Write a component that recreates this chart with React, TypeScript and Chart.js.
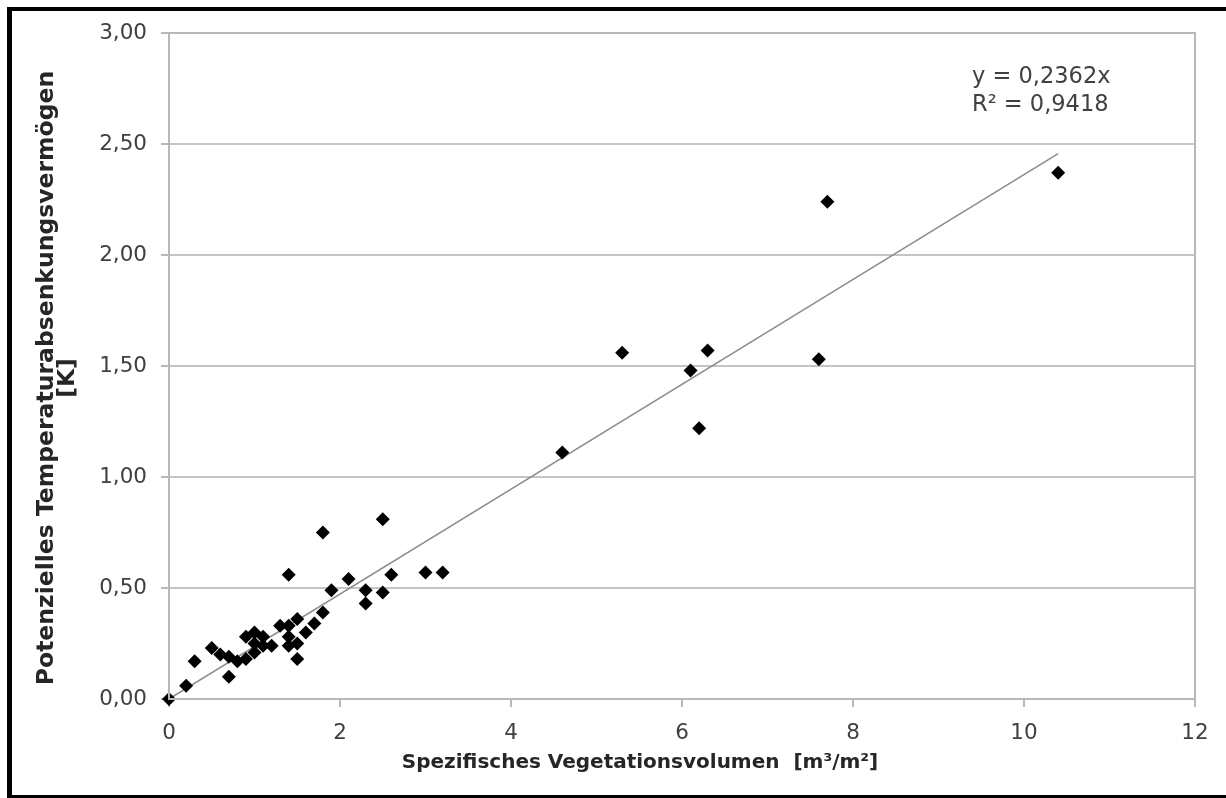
import React, { useEffect, useRef } from "react";
import { Chart, registerables } from "chart.js";

Chart.register(...registerables);

// Spezifisches Vegetationsvolumen [m³/m²]
const VOLUME_X: number[] = [
  0, 0.2, 0.3, 0.5, 0.6, 0.7, 0.7, 0.8, 0.9, 0.9,
  1.0, 1.0, 1.0, 1.1, 1.1, 1.2, 1.3, 1.4, 1.4, 1.4,
  1.5, 1.5, 1.5, 1.6, 1.7, 1.8, 1.9, 1.4, 1.8, 2.1,
  2.3, 2.3, 2.5, 2.5, 2.6, 3.0, 3.2, 4.6, 5.3, 6.1,
  6.2, 6.3, 7.6, 7.7, 10.4,
];
// Potenzielles Temperaturabsenkungsvermögen [K]
const COOLING_Y: number[] = [
  0, 0.06, 0.17, 0.23, 0.2, 0.19, 0.1, 0.17, 0.18, 0.28,
  0.3, 0.21, 0.25, 0.28, 0.24, 0.24, 0.33, 0.33, 0.28, 0.24,
  0.36, 0.25, 0.18, 0.3, 0.34, 0.39, 0.49, 0.56, 0.75, 0.54,
  0.49, 0.43, 0.48, 0.81, 0.56, 0.57, 0.57, 1.11, 1.56, 1.48,
  1.22, 1.57, 1.53, 2.24, 2.37,
];

const TREND_SLOPE = 0.2362;
const TREND_R2 = "0,9418";
const TREND_X_RANGE: number[] = [0, 10.4];

const X_TITLE = "Spezifisches Vegetationsvolumen  [m³/m²]";
const Y_TITLE_LINES: string[] = ["Potenzielles Temperaturabsenkungsvermögen", "[K]"];
const EQUATION_LINES: string[] = [
  "y = " + String(TREND_SLOPE).replace(".", ",") + "x",
  "R² = " + TREND_R2,
];

const FONT = "'DejaVu Sans', Verdana, sans-serif";

const decorPlugin = {
  id: "decor",
  beforeDraw(chart: any) {
    const { ctx, width, height } = chart;
    ctx.save();
    ctx.fillStyle = "#ffffff";
    ctx.fillRect(0, 0, width, height);
    ctx.restore();
  },
  afterDraw(chart: any) {
    const { ctx, chartArea } = chart;
    ctx.save();
    // plot frame
    ctx.strokeStyle = "#b8b8b8";
    ctx.lineWidth = 2;
    ctx.strokeRect(chartArea.left, chartArea.top, chartArea.right - chartArea.left, chartArea.bottom - chartArea.top);

    // outer black frame (top, left, bottom only; right side is cut off)
    ctx.fillStyle = "#000000";
    ctx.fillRect(7, 7, 1226 - 7, 4);
    ctx.fillRect(7, 7, 5, 798 - 7);
    ctx.fillRect(7, 795, 1226 - 7, 3);

    // axis titles
    ctx.fillStyle = "#262626";
    ctx.textAlign = "center";
    ctx.textBaseline = "middle";
    ctx.font = "bold 20px " + FONT;
    ctx.fillText(X_TITLE, 640, 763);

    ctx.save();
    ctx.font = "bold 23.5px " + FONT;
    ctx.translate(47, 378);
    ctx.rotate(-Math.PI / 2);
    ctx.fillText(Y_TITLE_LINES[0], 0, 0);
    ctx.fillText(Y_TITLE_LINES[1], 0, 21);
    ctx.restore();

    // equation
    ctx.fillStyle = "#404040";
    ctx.font = "22.5px " + FONT;
    ctx.textAlign = "left";
    ctx.textBaseline = "middle";
    ctx.fillText(EQUATION_LINES[0], 972, 77);
    ctx.fillText(EQUATION_LINES[1], 972, 105);
    ctx.restore();
  },
};

export default function App() {
  const ref = useRef<HTMLCanvasElement | null>(null);

  useEffect(() => {
    if (!ref.current) return;
    const points = VOLUME_X.map((x, i) => ({ x, y: COOLING_Y[i] }));
    const trend = TREND_X_RANGE.map((x) => ({ x, y: TREND_SLOPE * x }));
    const chart = new Chart(ref.current, {
      type: "scatter",
      data: {
        datasets: [
          {
            type: "line",
            label: "Trend",
            data: trend,
            borderColor: "#8c8c8c",
            borderWidth: 1.5,
            pointRadius: 0,
            fill: false,
            order: 2,
          },
          {
            label: "Messwerte",
            data: points,
            pointStyle: "rectRot",
            pointRadius: 7,
            backgroundColor: "#000000",
            borderColor: "#000000",
            borderWidth: 0,
            clip: false,
            order: 1,
          },
        ],
      },
      options: {
        animation: false,
        responsive: false,
        devicePixelRatio: 1,
        layout: { padding: { left: 0, right: 31, top: 33, bottom: 0 } },
        plugins: {
          legend: { display: false },
          tooltip: { enabled: false },
        },
        scales: {
          x: {
            type: "linear",
            min: 0,
            max: 12,
            ticks: {
              stepSize: 2,
              padding: 14,
              color: "#404040",
              font: { family: FONT, size: 21.5 },
            },
            grid: {
              drawOnChartArea: false,
              drawTicks: true,
              tickLength: 8,
              tickColor: "#b8b8b8",
              lineWidth: 2,
            },
            border: { display: true, color: "#b8b8b8", width: 2 },
            afterFit: (scale: any) => {
              scale.height = 99;
            },
          },
          y: {
            type: "linear",
            min: 0,
            max: 3,
            ticks: {
              stepSize: 0.5,
              padding: 14,
              color: "#404040",
              font: { family: FONT, size: 21.5 },
              callback: (v: any) => Number(v).toFixed(2).replace(".", ","),
            },
            grid: {
              color: "#c4c4c4",
              lineWidth: 2,
              drawTicks: true,
              tickLength: 8,
              tickColor: "#b8b8b8",
            },
            border: { display: true, color: "#b8b8b8", width: 2 },
            afterFit: (scale: any) => {
              scale.width = 169;
            },
          },
        },
      },
      plugins: [decorPlugin],
    });
    return () => chart.destroy();
  }, []);

  return (
    <div style={{ position: "fixed", left: 0, top: 0, width: 1226, height: 798, background: "#fff", overflow: "hidden" }}>
      <canvas ref={ref} width={1226} height={798} style={{ display: "block", width: 1226, height: 798 }} />
    </div>
  );
}
